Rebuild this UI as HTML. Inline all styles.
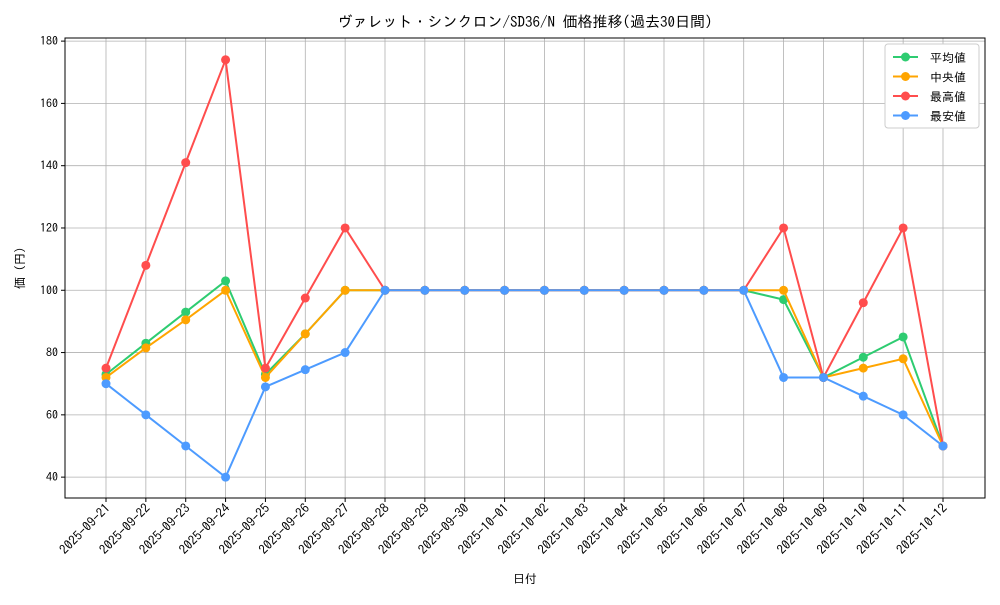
<!DOCTYPE html>
<html><head><meta charset="utf-8"><style>
body{margin:0;background:#fff;}
svg{font-family:"IPAGothic","Liberation Sans","Noto Sans CJK JP",sans-serif;}
</style></head><body>
<svg id="chart" width="1000" height="600" xmlns="http://www.w3.org/2000/svg"></svg>
<script>
const categories=["2025-09-21","2025-09-22","2025-09-23","2025-09-24","2025-09-25","2025-09-26","2025-09-27","2025-09-28","2025-09-29","2025-09-30","2025-10-01","2025-10-02","2025-10-03","2025-10-04","2025-10-05","2025-10-06","2025-10-07","2025-10-08","2025-10-09","2025-10-10","2025-10-11","2025-10-12"];
const avgValues=[73,83,93,103,73,86,100,100,100,100,100,100,100,100,100,100,100,97,72,78.5,85,50];
const medianValues=[72,81.5,90.5,100,72,86,100,100,100,100,100,100,100,100,100,100,100,100,72,75,78,50];
const maxValues=[75,108,141,174,75,97.5,120,100,100,100,100,100,100,100,100,100,100,120,72,96,120,50];
const minValues=[70,60,50,40,69,74.5,80,100,100,100,100,100,100,100,100,100,100,72,72,66,60,50];
const yTicks=[40,60,80,100,120,140,160,180];
const seriesNames=["平均値","中央値","最高値","最安値"];
const seriesColors=["#2ecc71","#ffa500","#ff4d4d","#4d9bff"];

const svg=document.getElementById('chart');
const NS="http://www.w3.org/2000/svg";
const L=65,R=985,T=38,B=498;
const yMin=33.3,yMax=181;
function x(i){return 106+i*(943-106)/(categories.length-1);}
function y(v){return B-(v-yMin)/(yMax-yMin)*(B-T);}
function mk(tag,attrs,parent){const e=document.createElementNS(NS,tag);for(const k in attrs)e.setAttribute(k,attrs[k]);(parent||svg).appendChild(e);return e;}

categories.forEach((c,i)=>{
 const g=mk('line',{x1:x(i),x2:x(i),y1:T,y2:B,stroke:'#b0b0b0','stroke-width':0.8});
 
 
 mk('line',{x1:x(i),x2:x(i),y1:B,y2:B+4,stroke:'#000'});
 const t=mk('text',{x:0,y:0,'font-size':13,'text-anchor':'end',transform:`translate(${x(i)+5},${B+11}) rotate(-45)`});
 t.textContent=c;
 
 
});
yTicks.forEach(v=>{
 const g=mk('line',{x1:L,x2:R,y1:y(v),y2:y(v),stroke:'#b0b0b0','stroke-width':0.8});
 
 
 mk('line',{x1:L-4,x2:L,y1:y(v),y2:y(v),stroke:'#000'});
 const t=mk('text',{x:L-7,y:y(v)+4,'font-size':12,'text-anchor':'end'});
 t.textContent=v;
 
 
});
const frame=mk('rect',{x:L,y:T,width:R-L,height:B-T,fill:'none',stroke:'#000','stroke-width':1});



const allSeries=[avgValues,medianValues,maxValues,minValues];
allSeries.forEach((vals,s)=>{
 const p=mk('polyline',{points:vals.map((v,i)=>x(i)+','+y(v)).join(' '),fill:'none',stroke:seriesColors[s],'stroke-width':2});
 
 
 vals.forEach((v,i)=>{
  const c=mk('circle',{cx:x(i),cy:y(v),r:4.5,fill:seriesColors[s]});
  
  
 });
});

const title=mk('text',{x:525,y:27,'font-size':15,'text-anchor':'middle'});
title.textContent="ヴァレット・シンクロン/SD36/N 価格推移(過去30日間)";


const xt=mk('text',{x:525,y:583,'font-size':12,'text-anchor':'middle'});
xt.textContent="日付";


const yt=mk('text',{x:0,y:0,'font-size':12,'text-anchor':'middle',transform:'translate(24,268) rotate(-90)'});
yt.textContent="価 (円)";



const lg=mk('rect',{x:885,y:44,width:94,height:84,rx:3,fill:'#fff',stroke:'#ccc'});


seriesNames.forEach((n,s)=>{
 const yy=57+s*19.5;
 mk('line',{x1:893,x2:918,y1:yy,y2:yy,stroke:seriesColors[s],'stroke-width':2});
 mk('circle',{cx:905.5,cy:yy,r:4.5,fill:seriesColors[s]});
 const t=mk('text',{x:930,y:yy+5,'font-size':12});
 t.textContent=n;
 
 
});
</script>
</body></html>
